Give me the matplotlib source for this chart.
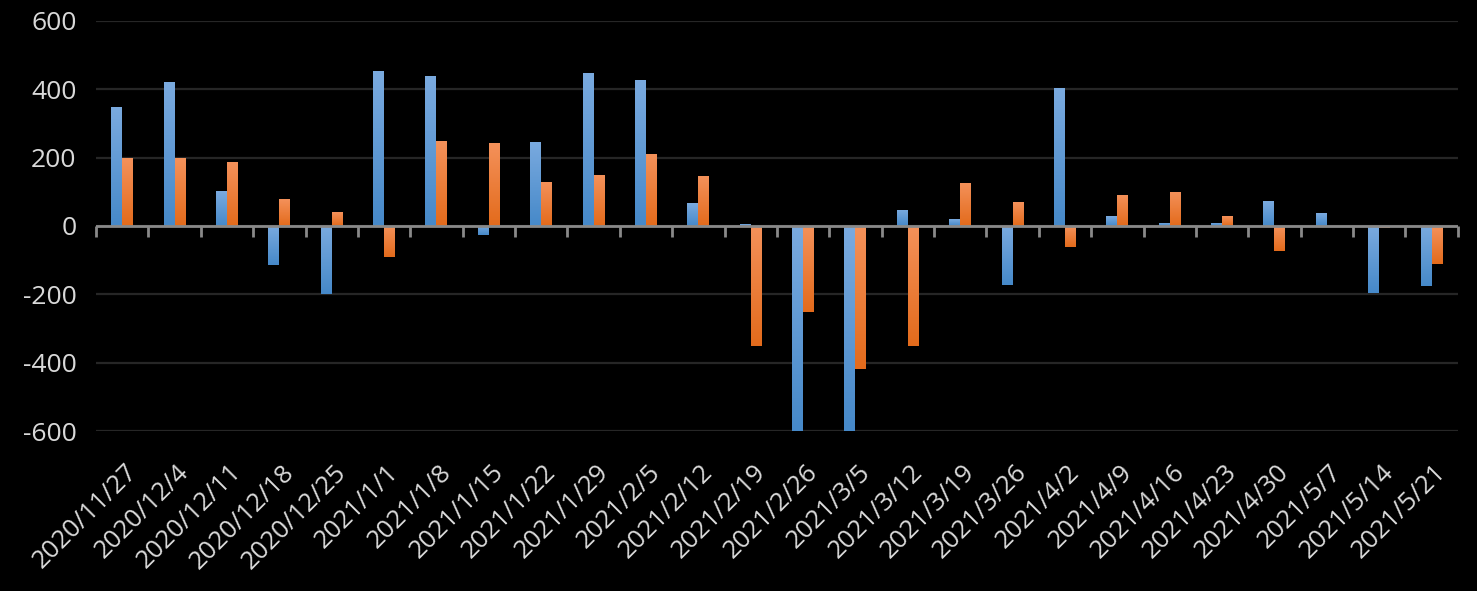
import matplotlib
matplotlib.use("Agg")
import matplotlib.pyplot as plt
import matplotlib.transforms as mtransforms
import numpy as np

plt.rcParams['axes.unicode_minus'] = False

# weekly data
dates = ['2020/11/27', '2020/12/4', '2020/12/11', '2020/12/18', '2020/12/25',
         '2021/1/1', '2021/1/8', '2021/1/15', '2021/1/22', '2021/1/29',
         '2021/2/5', '2021/2/12', '2021/2/19', '2021/2/26', '2021/3/5',
         '2021/3/12', '2021/3/19', '2021/3/26', '2021/4/2', '2021/4/9',
         '2021/4/16', '2021/4/23', '2021/4/30', '2021/5/7', '2021/5/14',
         '2021/5/21']
blue_vals = [347, 421, 102, -115, -200, 453, 438, -27, 246, 448,
             427, 67, 5, -600, -600, 47, 20, -173, 404, 29,
             9, 9, 73, 38, -196, -176]
orange_vals = [198, 198, 186, 78, 40, -92, 248, 242, 129, 149,
               211, 146, -351, -252, -419, -351, 126, 70, -61, 91,
               100, 29, -73, 0, -5, -111]

BG = '#000000'
TXT = '#d9d9d9'
GRID = '#262626'
AXIS = '#898989'

fig = plt.figure(figsize=(14.77, 5.91), dpi=100, facecolor=BG)
ax = fig.add_axes([0.065, 0.2707, 0.922, 0.6938])
ax.set_facecolor(BG)

x = np.arange(len(dates))
w = 0.21


def gradient_bars(xpos, vals, top_col, bot_col):
    bars = ax.bar(xpos, vals, width=w, color='none', edgecolor='none', zorder=3)
    grad = np.linspace(0, 1, 64).reshape(-1, 1)
    cmap = matplotlib.colors.LinearSegmentedColormap.from_list('g', [top_col, bot_col])
    for b in bars:
        x0, y0 = b.get_x(), b.get_y()
        bw, bh = b.get_width(), b.get_height()
        if bh == 0:
            continue
        ylo, yhi = min(y0, y0 + bh), max(y0, y0 + bh)
        im = ax.imshow(grad, cmap=cmap, aspect='auto', extent=(x0, x0 + bw, ylo, yhi),
                       origin='upper', zorder=3, interpolation='bilinear')
        im.set_clip_path(b)
    return bars


gradient_bars(x - w / 2, blue_vals, '#7aaadf', '#4689c9')
gradient_bars(x + w / 2, orange_vals, '#f4915a', '#e36b1c')

ax.set_xlim(-0.5, len(dates) - 0.5)
ax.set_ylim(-600, 600)
ax.set_yticks(np.arange(-600, 601, 200))
ax.grid(axis='y', color=GRID, linewidth=1.6, zorder=0)
ax.set_axisbelow(True)
for s in ax.spines.values():
    s.set_visible(False)

ax.tick_params(axis='y', length=0, pad=14, labelsize=19, labelcolor=TXT)
for lbl in ax.get_yticklabels():
    lbl.set_fontfamily('Open Sans')

# zero line with category boundary ticks
ax.axhline(0, color=AXIS, linewidth=2, zorder=4)
zero_ax = ax.secondary_xaxis(0.5)
zero_ax.spines['bottom'].set_visible(False)
zero_ax.spines['top'].set_visible(False)
zero_ax.set_xticks(np.arange(len(dates) + 1) - 0.5)
zero_ax.tick_params(axis='x', direction='in', length=8, width=2, color=AXIS,
                    labelbottom=False, labeltop=False)

ax.set_xticks(x)
ax.set_xticklabels(dates)
ax.tick_params(axis='x', length=0, pad=27, labelsize=18.5, labelcolor=TXT)
offset = mtransforms.ScaledTranslation(11 / 100, 0, fig.dpi_scale_trans)
for lbl in ax.get_xticklabels():
    lbl.set_rotation(45)
    lbl.set_ha('right')
    lbl.set_va('center')
    lbl.set_rotation_mode('anchor')
    lbl.set_fontfamily('Open Sans')
    lbl.set_transform(lbl.get_transform() + offset)

fig.savefig('out.png', dpi=100, facecolor=BG)
